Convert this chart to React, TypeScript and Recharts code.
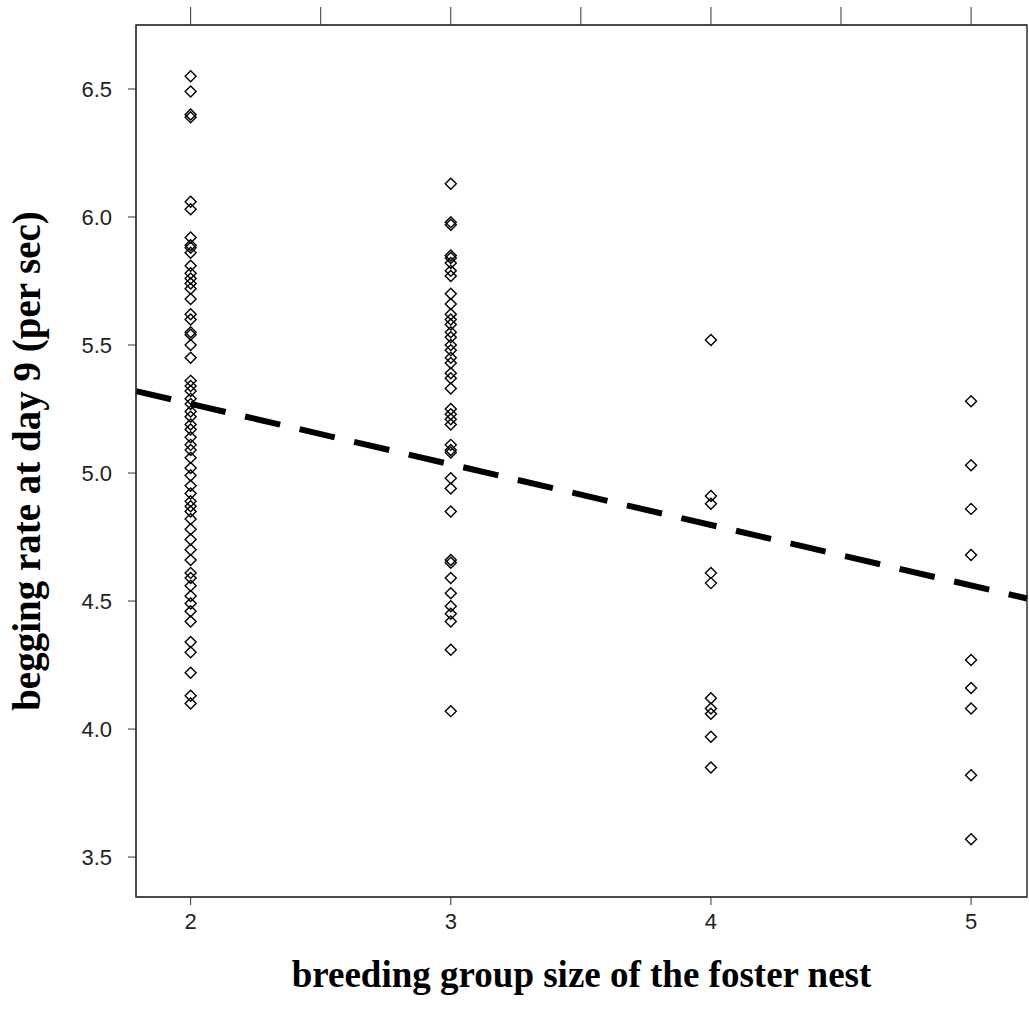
import {
  ComposedChart,
  Scatter,
  XAxis,
  YAxis,
  ReferenceLine,
  ReferenceArea,
  Label,
} from "recharts";

// begging rate (per sec) of chicks, grouped by breeding group size of foster nest
const group2Rates = [
  6.55, 6.49, 6.40, 6.39, 6.06, 6.03, 5.92, 5.89, 5.88, 5.86, 5.81, 5.78, 5.76,
  5.74, 5.72, 5.68, 5.62, 5.60, 5.55, 5.54, 5.50, 5.45, 5.36, 5.34, 5.32, 5.29,
  5.27, 5.24, 5.22, 5.19, 5.17, 5.14, 5.11, 5.09, 5.06, 5.02, 4.99, 4.95, 4.92,
  4.89, 4.87, 4.85, 4.82, 4.78, 4.74, 4.70, 4.66, 4.61, 4.59, 4.56, 4.52, 4.49,
  4.46, 4.42, 4.34, 4.30, 4.22, 4.13, 4.10,
];
const group3Rates = [
  6.13, 5.98, 5.97, 5.85, 5.84, 5.82, 5.79, 5.77, 5.70, 5.66, 5.62, 5.60, 5.58,
  5.55, 5.53, 5.50, 5.48, 5.45, 5.43, 5.39, 5.37, 5.33, 5.25, 5.23, 5.21, 5.19,
  5.11, 5.09, 5.08, 4.98, 4.94, 4.85, 4.66, 4.65, 4.59, 4.53, 4.48, 4.45, 4.42,
  4.31, 4.07,
];
const group4Rates = [5.52, 4.91, 4.88, 4.61, 4.57, 4.12, 4.08, 4.06, 3.97, 3.85];
const group5Rates = [5.28, 5.03, 4.86, 4.68, 4.27, 4.16, 4.08, 3.82, 3.57];

const groupSizes = [2, 3, 4, 5];
const topTicks = [2, 2.5, 3, 3.5, 4, 4.5, 5];
const rateTicks = [3.5, 4.0, 4.5, 5.0, 5.5, 6.0, 6.5];

// fitted regression line end points
const fitStart = { x: 1.79, y: 5.32 };
const fitEnd = { x: 5.215, y: 4.51 };

const points = [group2Rates, group3Rates, group4Rates, group5Rates].flatMap(
  (rates, i) => rates.map((rate) => ({ size: groupSizes[i], rate }))
);

const Diamond = (props: any) => {
  const { cx, cy } = props;
  const r = 5.5;
  return (
    <path
      d={`M${cx},${cy - r}L${cx + r},${cy}L${cx},${cy + r}L${cx - r},${cy}Z`}
      fill="none"
      stroke="#000"
      strokeWidth={1.4}
    />
  );
};

const Nothing = () => <g />;

const tickStyle = { fill: "#222", fontSize: 22, fontFamily: "Liberation Sans, Arial, sans-serif" };
const titleStyle = {
  fill: "#000",
  fontSize: 37,
  fontWeight: "bold",
  fontFamily: "Liberation Serif, Times New Roman, serif",
};

const X_DOMAIN = [1.79, 5.215];
const Y_DOMAIN = [3.344, 6.75];

export default function App() {
  return (
    <div
      style={{
        position: "absolute",
        left: 0,
        top: 0,
        width: 1029,
        height: 1017,
        background: "#fff",
      }}
    >
      <ComposedChart
        width={1029}
        height={1017}
        data={points}
        margin={{ top: 0, right: 2, bottom: 0, left: 60 }}
      >
        <XAxis
          dataKey="size"
          type="number"
          domain={X_DOMAIN}
          allowDataOverflow
          ticks={groupSizes}
          height={120}
          stroke="#333"
          tickSize={8}
          tickMargin={8}
          tick={tickStyle}
          interval={0}
        >
          <Label
            value="breeding group size of the foster nest"
            position="insideBottom"
            offset={30}
            style={titleStyle}
          />
        </XAxis>
        <XAxis
          xAxisId="top"
          dataKey="size"
          orientation="top"
          type="number"
          domain={X_DOMAIN}
          allowDataOverflow
          ticks={topTicks}
          height={25}
          stroke="#333"
          tickSize={18}
          tickFormatter={() => ""}
          interval={0}
        />
        <YAxis
          dataKey="rate"
          type="number"
          domain={Y_DOMAIN}
          allowDataOverflow
          ticks={rateTicks}
          width={76}
          stroke="#333"
          tickSize={8}
          tickMargin={16}
          tick={tickStyle}
          tickFormatter={(v: number) => v.toFixed(1)}
          interval={0}
        >
          <Label
            value="begging rate at day 9 (per sec)"
            angle={-90}
            position="insideLeft"
            offset={-34}
            style={{ ...titleStyle, fontSize: 39, textAnchor: "middle" }}
          />
        </YAxis>
        <YAxis
          yAxisId="right"
          dataKey="rate"
          orientation="right"
          type="number"
          domain={Y_DOMAIN}
          allowDataOverflow
          ticks={rateTicks}
          width={0}
          stroke="#333"
          tickSize={8}
          tickFormatter={() => ""}
          interval={0}
        />
        <Scatter
          xAxisId="top"
          yAxisId="right"
          dataKey="rate"
          shape={Nothing}
          isAnimationActive={false}
        />
        <ReferenceArea
          x1={X_DOMAIN[0]}
          x2={X_DOMAIN[1]}
          y1={Y_DOMAIN[0]}
          y2={Y_DOMAIN[1]}
          fill="none"
          stroke="#333"
          strokeWidth={1.5}
          ifOverflow="visible"
        />
        <Scatter dataKey="rate" shape={Diamond} isAnimationActive={false} />
        <ReferenceLine
          segment={[fitStart, fitEnd]}
          stroke="#000"
          strokeWidth={6}
          strokeDasharray="36 20"
          ifOverflow="visible"
        />
      </ComposedChart>
    </div>
  );
}
